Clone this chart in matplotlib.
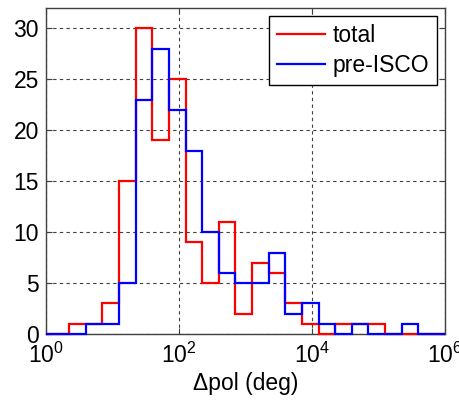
import numpy as np
import matplotlib
matplotlib.use('Agg')
import matplotlib.pyplot as plt

plt.rcParams['font.family'] = ['Liberation Sans', 'DejaVu Sans']
plt.rcParams['mathtext.default'] = 'regular'

# bin edges in log10(deg)
EDGES_LOG = [0.0, 0.35, 0.6, 0.85, 1.1, 1.35, 1.6, 1.85, 2.1, 2.35, 2.6, 2.85,
             3.1, 3.35, 3.6, 3.85, 4.1, 4.35, 4.6, 4.85, 5.1, 5.35, 5.6, 5.85, 6.0]
# counts per bin
TOTAL = [0, 1, 1, 3, 15, 30, 19, 25, 9, 5, 11, 2,
         7, 6, 3, 1, 0, 1, 1, 1, 0, 0, 0, 0]
PRE_ISCO = [0, 0, 1, 1, 5, 23, 28, 22, 18, 10, 6, 5,
            5, 8, 2, 3, 1, 0, 1, 0, 0, 1, 0, 0]

XTICKS = [1, 1e2, 1e4, 1e6]
XTICK_LABELS = ['$10^{0}$', '$10^{2}$', '$10^{4}$', '$10^{6}$']
YTICKS = [0, 5, 10, 15, 20, 25, 30]

FS = 16.5
edges = 10 ** np.array(EDGES_LOG)

fig = plt.figure(figsize=(4.6, 4.01), dpi=100)
ax = fig.add_axes([0.1, 0.167, 0.867, 0.813])

ax.stairs(TOTAL, edges, color='#ff0000', lw=1.6, label='total',
          zorder=3, clip_on=False)
ax.stairs(PRE_ISCO, edges, color='#0000ff', lw=1.6, label='pre-ISCO',
          zorder=3, clip_on=False)

ax.set_xscale('log')
ax.set_xlim(1, 1e6)
ax.set_ylim(0, 32)
ax.set_xticks(XTICKS)
ax.set_xticklabels(XTICK_LABELS)
ax.xaxis.set_minor_locator(matplotlib.ticker.NullLocator())
ax.set_yticks(YTICKS)

ax.grid(True, color='0.25', linestyle=(0, (3, 3)), lw=0.8)
ax.tick_params(direction='in', top=True, right=True, labelsize=FS,
               length=4, width=0.8, color='0.25')
ax.tick_params(axis='x', pad=6)
ax.tick_params(axis='y', pad=5)
for s in ax.spines.values():
    s.set_color('0.25')
    s.set_linewidth(1.0)

ax.set_xlabel('\u0394pol (deg)', fontsize=FS, labelpad=3)

leg = ax.legend(loc='upper right', fontsize=FS, fancybox=False,
                edgecolor='black', framealpha=1, handlelength=2.1,
                handletextpad=0.3, borderpad=0.35, labelspacing=0.3,
                borderaxespad=0.35)
leg.get_frame().set_linewidth(1.0)

fig.savefig('out.png', dpi=100)
